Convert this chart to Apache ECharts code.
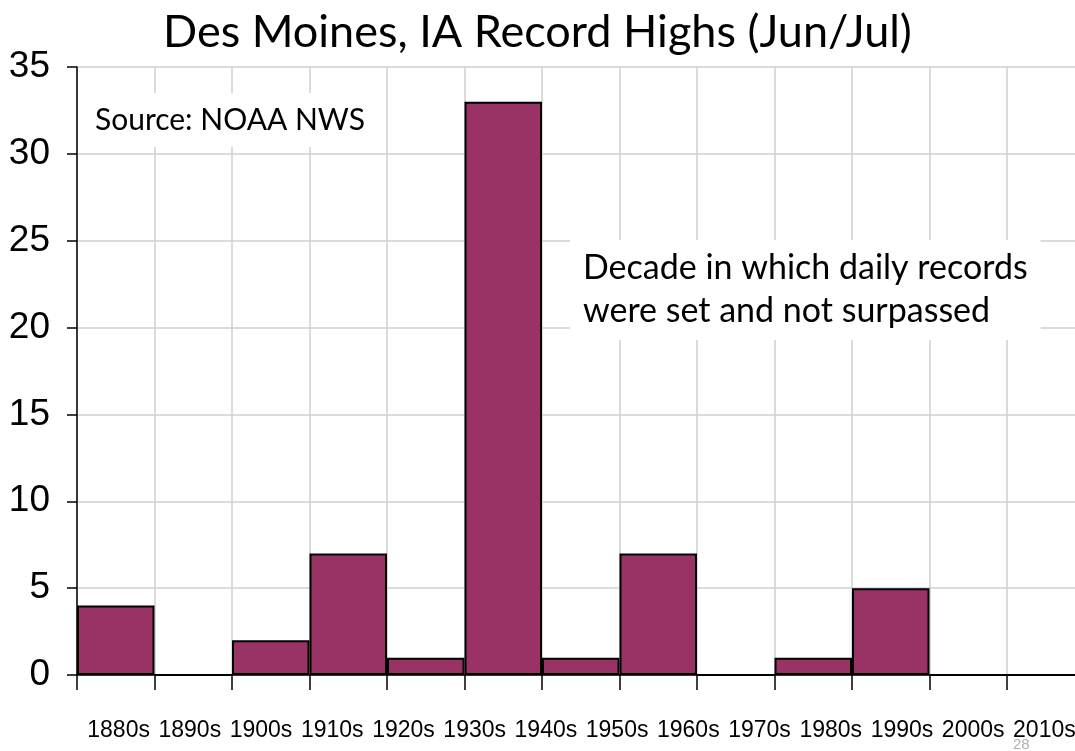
<!DOCTYPE html>
<html>
<head>
<meta charset="utf-8">
<title>Des Moines Record Highs</title>
<script src="https://cdn.jsdelivr.net/npm/echarts@6/dist/echarts.min.js"></script>
<style>
  html, body { margin: 0; padding: 0; background: #fff; overflow: hidden; }
  #chart { width: 1162px; height: 751px; }
</style>
</head>
<body>
<div id="chart"></div>
<script>
// decades and count of daily record highs (Jun/Jul) still standing
const decades = ['1880s', '1890s', '1900s', '1910s', '1920s', '1930s', '1940s',
                 '1950s', '1960s', '1970s', '1980s', '1990s', '2000s', '2010s'];
const records = [4, 0, 2, 7, 1, 33, 1, 7, 0, 1, 5, 0, 0, 0];
const yTicks = { min: 0, max: 35, step: 5 };

const chart = echarts.init(document.getElementById('chart'));

const option = {
    animation: false,
    title: [
        {
            text: 'Des Moines, IA Record Highs (Jun/Jul)',
            left: 163, top: 10, padding: 0,
            textStyle: { fontFamily: 'Lato', fontSize: 45, fontWeight: 'normal', color: '#000' }
        },
        {
            text: 'Source: NOAA NWS',
            left: 85, top: 93, padding: [11, 10],
            backgroundColor: '#fff',
            textStyle: { fontFamily: 'Lato', fontSize: 30, fontWeight: 'normal', color: '#000', lineHeight: 32 }
        },
        {
            text: 'Decade in which daily records\nwere set and not surpassed',
            left: 570, top: 240, padding: [7, 13],
            backgroundColor: '#fff',
            textStyle: { fontFamily: 'Lato', fontSize: 34, fontWeight: 'normal', color: '#000', lineHeight: 43 }
        }
    ],
    grid: [
        { left: 77, right: 0, top: 67, bottom: 76 },
        // label row, spaced a bit tighter than the bars
        { left: 83, right: 82, top: 67, bottom: 76 }
    ],
    xAxis: [
        {
            type: 'category',
            gridIndex: 0,
            data: decades,
            axisLine: { lineStyle: { color: '#000', width: 1.5 } },
            axisTick: { show: true, length: 15, lineStyle: { color: '#000', width: 1.5 } },
            axisLabel: { show: false },
            splitLine: { show: true, interval: 0, lineStyle: { color: '#cfcfcf', width: 1.5 } }
        },
        {
            type: 'category',
            gridIndex: 1,
            data: decades,
            axisLine: { show: false },
            axisTick: { show: false },
            splitLine: { show: false },
            axisLabel: {
                interval: 0, margin: 44, color: '#000',
                fontFamily: 'Liberation Sans', fontSize: 23
            }
        }
    ],
    yAxis: [
        {
            type: 'value',
            gridIndex: 0,
            min: yTicks.min, max: yTicks.max, interval: yTicks.step,
            axisLine: { show: true, lineStyle: { color: '#000', width: 1.5 } },
            axisTick: { show: true, length: 10, lineStyle: { color: '#000', width: 1.5 } },
            axisLabel: { margin: 27, color: '#000', fontFamily: 'Liberation Sans', fontSize: 37 },
            splitLine: { show: true, lineStyle: { color: '#cfcfcf', width: 1.5 } }
        },
        { type: 'value', gridIndex: 1, show: false }
    ],
    series: [
        {
            name: 'Records',
            type: 'bar',
            xAxisIndex: 0,
            yAxisIndex: 0,
            data: records,
            barCategoryGap: '0%',
            itemStyle: { color: '#993366', borderColor: '#000', borderWidth: 2 }
        }
    ],
    graphic: [
        {
            type: 'text', left: 1013, top: 737,
            style: { text: '28', fontFamily: 'Liberation Sans', fontSize: 15, fill: '#b0b0b0' }
        }
    ]
};

chart.setOption(option);
</script>
</body>
</html>
